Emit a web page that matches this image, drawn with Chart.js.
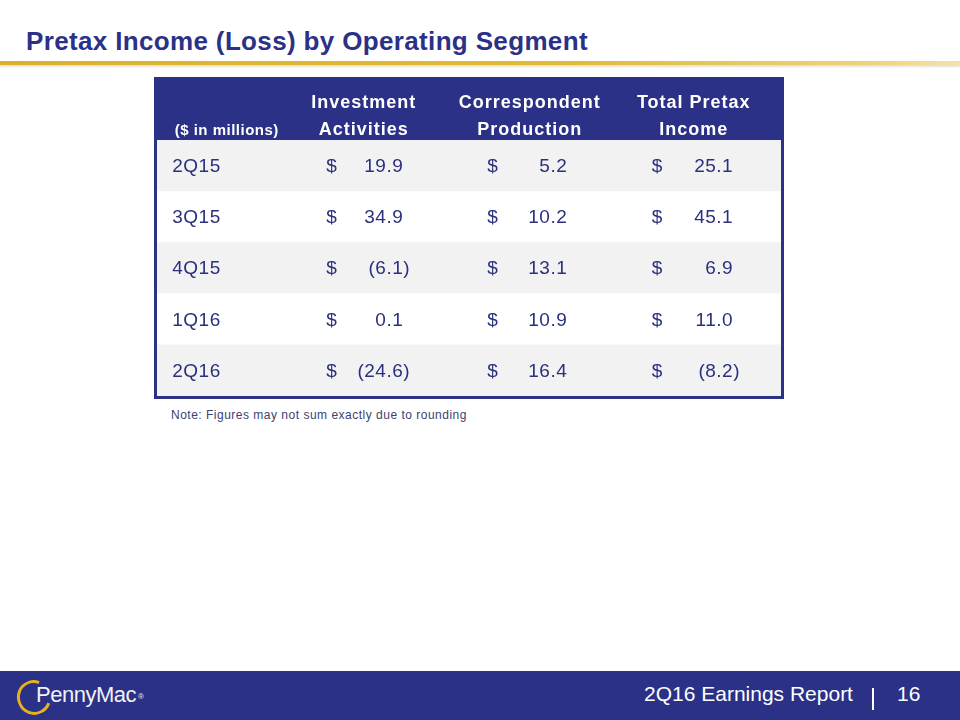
<!DOCTYPE html>
<html>
<head>
<meta charset="utf-8">
<script src="https://cdn.jsdelivr.net/npm/chart.js@4.4.1/dist/chart.umd.min.js"></script>
<style>
  body { margin: 0; width: 960px; height: 720px; position: relative; overflow: hidden; background: #fff;
         font-family: "Liberation Sans", Arial, sans-serif; }
  .title { position: absolute; left: 26px; top: 28px; font-size: 26px; line-height: 26px; font-weight: bold;
           letter-spacing: 0.35px; color: #2b3187; white-space: nowrap; }
  .rule { position: absolute; left: 0; top: 61px; width: 960px; height: 4px;
          background: linear-gradient(to right, #dbb12c 0%, #e2bb35 60%, #eed27a 90%, #f4e3a6 100%);
          box-shadow: 0 2px 2px rgba(0,0,0,0.12); }
  .wrap { position: absolute; left: 154px; top: 77px; width: 630px; height: 323px; }
  .note { position: absolute; left: 171px; top: 409px; font-size: 12px; line-height: 12px; color: #3c4270;
          letter-spacing: 0.5px; white-space: nowrap; }
  .footer { position: absolute; left: 0; top: 671px; width: 960px; height: 49px; background: #2a3187; }
  .footer .txt { position: absolute; top: 12px; font-size: 21px; line-height: 21px; color: #fff; white-space: nowrap; }
  .footer .sep { position: absolute; left: 872px; top: 17px; width: 2px; height: 22px; background: #fff; }
  .logo-ring { position: absolute; left: 17px; top: 9px; width: 28px; height: 29px; border: 3px solid #e3b21d;
               border-radius: 50%; border-right-color: transparent; transform: rotate(-25deg); }
  .logo { position: absolute; left: 36px; top: 13px; font-size: 22px; line-height: 22px; color: #f2f2f2;
          letter-spacing: -0.5px; white-space: nowrap; }
  .logo sup { font-size: 8px; vertical-align: top; position: relative; top: 2px; margin-left: 2px; }
</style>
</head>
<body>
<div class="title">Pretax Income (Loss) by Operating Segment</div>
<div class="rule"></div>
<div class="wrap"><canvas id="tableChart"></canvas></div>
<div class="note">Note: Figures may not sum exactly due to rounding</div>
<div class="footer">
  <div class="logo-ring"></div>
  <div class="logo">PennyMac<sup>®</sup></div>
  <div class="txt" style="left:644px">2Q16 Earnings Report</div>
  <div class="sep"></div>
  <div class="txt" style="left:897px">16</div>
</div>
<script>
// datos de la tabla
const quarters = ['2Q15', '3Q15', '4Q15', '1Q16', '2Q16'];
const investment = [19.9, 34.9, -6.1, 0.1, -24.6];
const correspondent = [5.2, 10.2, 13.1, 10.9, 16.4];
const totalPretax = [25.1, 45.1, 6.9, 11.0, -8.2];
const headers = [['Investment', 'Activities'], ['Correspondent', 'Production'], ['Total Pretax', 'Income']];
const unitLabel = '($ in millions)';

// layout de columnas (en % del ancho de la tabla)
const series = [investment, correspondent, totalPretax];
const headerCenters = [33.2, 59.7, 85.9];
const dollarX = [27.2, 52.9, 79.2];
const valueRight = [39.5, 65.7, 92.2];
const labelX = 2.6;
const unitCenter = 11.3;
const headerLineY = [-1.13, -0.6];

const navy = '#2b3187';
const textNavy = '#2a307e';
const font = '"Liberation Sans", Arial, sans-serif';

const tablePlugin = {
  id: 'tablePlugin',
  beforeDatasetsDraw(chart) {
    const { ctx, chartArea, scales: { x, y } } = chart;
    // banda del encabezado
    const top = chartArea.top;
    const bottom = y.getPixelForValue(-0.5);
    ctx.save();
    ctx.fillStyle = navy;
    ctx.fillRect(chartArea.left, top, chartArea.right - chartArea.left, bottom - top);
    ctx.restore();
  },
  afterDatasetsDraw(chart) {
    const { ctx, chartArea, scales: { x, y } } = chart;
    ctx.save();
    // encabezado
    ctx.fillStyle = '#ffffff';
    ctx.textAlign = 'center';
    ctx.textBaseline = 'alphabetic';
    ctx.font = 'bold 18px ' + font;
    ctx.letterSpacing = '1px';
    headers.forEach((lines, c) => {
      lines.forEach((t, k) => {
        ctx.fillText(t, x.getPixelForValue(headerCenters[c]), y.getPixelForValue(headerLineY[k]));
      });
    });
    ctx.font = 'bold 15px ' + font;
    ctx.letterSpacing = '0.5px';
    ctx.fillText(unitLabel, x.getPixelForValue(unitCenter), y.getPixelForValue(headerLineY[1]));

    // filas
    ctx.fillStyle = textNavy;
    ctx.font = '19px ' + font;
    ctx.letterSpacing = '0.5px';
    ctx.textBaseline = 'middle';
    const paren = ctx.measureText(')').width;
    quarters.forEach((q, i) => {
      const py = y.getPixelForValue(i) + 1;
      ctx.textAlign = 'left';
      ctx.fillText(q, x.getPixelForValue(labelX), py);
      series.forEach((s, c) => {
        const v = s[i];
        ctx.textAlign = 'left';
        ctx.fillText('$', x.getPixelForValue(dollarX[c]), py);
        ctx.textAlign = 'right';
        const txt = Math.abs(v).toFixed(1);
        if (v < 0) {
          ctx.fillText('(' + txt + ')', x.getPixelForValue(valueRight[c]) + paren, py);
        } else {
          ctx.fillText(txt, x.getPixelForValue(valueRight[c]), py);
        }
      });
    });

    // borde de la tabla
    ctx.strokeStyle = navy;
    ctx.lineWidth = 3;
    ctx.strokeRect(chartArea.left - 0.5, chartArea.top - 0.5,
      chartArea.right - chartArea.left + 1, chartArea.bottom - chartArea.top + 2);
    ctx.restore();
  }
};

const ctx = document.getElementById('tableChart').getContext('2d');
const chart = new Chart(ctx, {
  type: 'bar',
  data: {
    datasets: [{
      label: '',
      data: quarters.map((q, i) => ({ x: [0, 100], y: i })),
      backgroundColor: quarters.map((q, i) => i % 2 === 0 ? '#f2f2f2' : '#ffffff'),
      borderWidth: 0,
      barPercentage: 1,
      categoryPercentage: 1,
    }]
  },
  options: {
    indexAxis: 'y',
    responsive: true,
    maintainAspectRatio: false,
    animation: false,
    layout: { padding: { left: 2, right: 2, top: 2, bottom: 4 } },
    plugins: {
      legend: { display: false },
      title: { display: false },
      tooltip: { enabled: false }
    },
    scales: {
      x: {
        type: 'linear',
        min: 0,
        max: 100,
        display: false
      },
      y: {
        type: 'linear',
        reverse: true,
        offset: false,
        min: -1.7,
        max: 4.5,
        display: false,
        // una marca por fila para que el grosor de barra sea una fila completa
        afterBuildTicks: (scale) => {
          scale.ticks = quarters.map((q, i) => ({ value: i }));
        }
      }
    }
  },
  plugins: [tablePlugin]
});
</script>
</body>
</html>
